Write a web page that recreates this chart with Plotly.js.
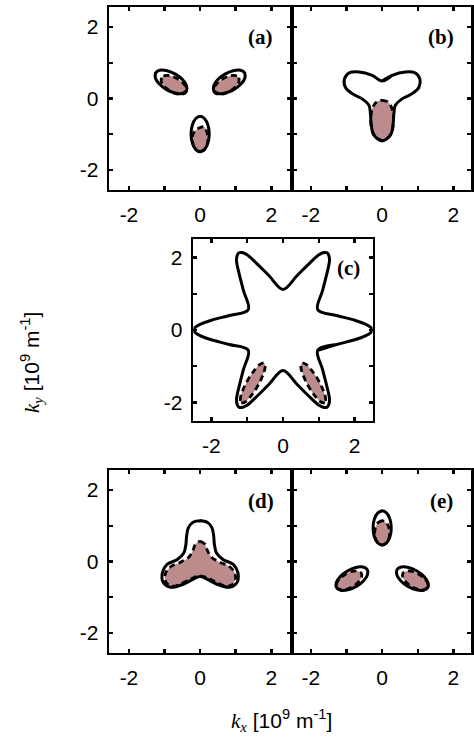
<!DOCTYPE html>
<html><head><meta charset="utf-8">
<script src="https://cdn.plot.ly/plotly-3.0.1.min.js"></script>
<style>html,body{margin:0;padding:0;background:#fff}#chart{width:474px;height:738px}</style>
</head><body><div id="chart"></div>
<script>
// ---------- tick data ----------
const tickVals = [-2, 0, 2];
const tickText = ['-2', '0', '2'];
const minorTickVals = [-2, -1, 0, 1, 2];
const panelLabels = ['(a)', '(b)', '(c)', '(d)', '(e)'];

// ---------- panel (a): three pockets ----------
const aULx = [-1.253,-1.258,-1.145,-0.945,-0.712,-0.508,-0.387,-0.383,-0.496,-0.695,-0.929,-1.133];
const aULy = [0.715,0.574,0.403,0.249,0.153,0.141,0.215,0.357,0.528,0.682,0.778,0.790];
const aURx = [1.253,1.258,1.145,0.945,0.712,0.508,0.387,0.383,0.496,0.695,0.929,1.133];
const aURy = [0.715,0.574,0.403,0.249,0.153,0.141,0.215,0.357,0.528,0.682,0.778,0.790];
const aBx = [0,0.128,0.221,0.255,0.221,0.128,0,-0.128,-0.221,-0.255,-0.221,-0.128];
const aBy = [-1.49,-1.424,-1.243,-0.995,-0.747,-0.566,-0.50,-0.566,-0.747,-0.995,-1.243,-1.424];
// occupied (shaded) parts in (a)
const aULpx = [-1.086,-1.090,-1.0,-0.84,-0.654,-0.49,-0.394,-0.39,-0.48,-0.64,-0.826,-0.99];
const aULpy = [0.58,0.466,0.33,0.207,0.13,0.12,0.18,0.294,0.43,0.553,0.63,0.64];
const aURpx = [1.086,1.090,1.0,0.84,0.654,0.49,0.394,0.39,0.48,0.64,0.826,0.99];
const aURpy = [0.58,0.466,0.33,0.207,0.13,0.12,0.18,0.294,0.43,0.553,0.63,0.64];
const aBpx = [0,0.11,0.19,0.22,0.19,0.12,0.03,-0.12,-0.2,-0.22,-0.19,-0.11];
const aBpy = [-1.49,-1.442,-1.31,-1.13,-0.95,-0.80,-0.80,-0.88,-1.0,-1.13,-1.31,-1.442];

// ---------- panel (b): trefoil ----------
const bSx = [0,0.28,0.65,0.92,1.06,1.03,0.83,0.56,0.37,0.33,0.31,0.24,0,-0.24,-0.31,-0.33,-0.37,-0.56,-0.83,-1.03,-1.06,-0.92,-0.65,-0.28];
const bSy = [0.49,0.65,0.745,0.72,0.54,0.31,0.13,-0.01,-0.19,-0.42,-0.69,-1.01,-1.19,-1.01,-0.69,-0.42,-0.19,-0.01,0.13,0.31,0.54,0.72,0.745,0.65];
const bPx = [0,0.15,0.26,0.31,0.32,0.29,0.2,0,-0.2,-0.29,-0.32,-0.31,-0.26,-0.15];
const bPy = [-0.05,-0.09,-0.24,-0.45,-0.66,-0.87,-1.06,-1.17,-1.06,-0.87,-0.66,-0.45,-0.24,-0.09];

// ---------- panel (c): six-armed star ----------
const cSx = [0.97,1.5,2.0,2.3,2.44,2.5,2.44,2.3,2.0,1.5,
  0.97,1.105,1.234,1.297,1.279,1.23,1.141,1.003,0.766,0.395,
  0,-0.395,-0.766,-1.003,-1.141,-1.23,-1.279,-1.297,-1.234,-1.105,
  -0.97,-1.5,-2.0,-2.3,-2.44,-2.5,-2.44,-2.3,-2.0,-1.5,
  -0.97,-1.105,-1.234,-1.297,-1.279,-1.23,-1.141,-1.003,-0.766,-0.395,
  0,0.395,0.766,1.003,1.141,1.23,1.279,1.297,1.234,1.105];
const cSy = [-0.56,-0.40,-0.27,-0.16,-0.08,0,0.08,0.16,0.27,0.40,
  0.56,1.094,1.597,1.907,2.056,2.13,2.136,2.077,1.867,1.504,
  1.12,1.504,1.867,2.077,2.136,2.13,2.056,1.907,1.597,1.094,
  0.56,0.40,0.27,0.16,0.08,0,-0.08,-0.16,-0.27,-0.40,
  -0.56,-1.094,-1.597,-1.907,-2.056,-2.13,-2.136,-2.077,-1.867,-1.504,
  -1.12,-1.504,-1.867,-2.077,-2.136,-2.13,-2.056,-1.907,-1.597,-1.094];
const cLPx = [-1.165,-1.053,-0.885,-0.706,-0.565,-0.499,-0.525,-0.637,-0.805,-0.984,-1.125,-1.191];
const cLPy = [-2.018,-1.984,-1.81,-1.544,-1.256,-1.024,-0.91,-0.944,-1.118,-1.384,-1.672,-1.904];
const cRPx = [1.165,1.053,0.885,0.706,0.565,0.499,0.525,0.637,0.805,0.984,1.125,1.191];
const cRPy = [-2.018,-1.984,-1.81,-1.544,-1.256,-1.024,-0.91,-0.944,-1.118,-1.384,-1.672,-1.904];

// ---------- panel (d): inverted trefoil ----------
const dSx = [0,0.2,0.33,0.38,0.40,0.46,0.65,0.93,1.06,1.04,0.83,0.46,0.19,0,-0.19,-0.46,-0.83,-1.04,-1.06,-0.93,-0.65,-0.46,-0.40,-0.38,-0.33,-0.2];
const dSy = [1.14,1.1,0.95,0.72,0.48,0.24,0.05,-0.08,-0.31,-0.58,-0.72,-0.63,-0.49,-0.42,-0.49,-0.63,-0.72,-0.58,-0.31,-0.08,0.05,0.24,0.48,0.72,0.95,1.1];
const dPx = [0,0.13,0.2,0.32,0.55,0.82,0.97,0.99,0.9,0.72,0.45,0.2,0,-0.2,-0.45,-0.72,-0.9,-0.99,-0.97,-0.82,-0.55,-0.32,-0.2,-0.13];
const dPy = [0.56,0.49,0.32,0.12,-0.02,-0.14,-0.32,-0.5,-0.65,-0.69,-0.58,-0.46,-0.40,-0.46,-0.58,-0.69,-0.65,-0.5,-0.32,-0.14,-0.02,0.12,0.32,0.49];

// ---------- panel (e): three pockets ----------
const eTx = [0,-0.128,-0.221,-0.255,-0.221,-0.128,0,0.128,0.221,0.255,0.221,0.128];
const eTy = [1.42,1.356,1.18,0.94,0.70,0.524,0.46,0.524,0.70,0.94,1.18,1.356];
const eLLx = [-1.283,-1.163,-0.959,-0.725,-0.526,-0.413,-0.417,-0.538,-0.742,-0.975,-1.175,-1.288];
const eLLy = [-0.73,-0.805,-0.793,-0.697,-0.543,-0.372,-0.23,-0.156,-0.168,-0.264,-0.418,-0.589];
const eLRx = [1.283,1.163,0.959,0.725,0.526,0.413,0.417,0.538,0.742,0.975,1.175,1.288];
const eLRy = [-0.73,-0.805,-0.793,-0.697,-0.543,-0.372,-0.23,-0.156,-0.168,-0.264,-0.418,-0.589];
const eTpx = [0,-0.105,-0.182,-0.21,-0.182,-0.105,0,0.105,0.182,0.21,0.182,0.105];
const eTpy = [1.14,1.094,0.97,0.80,0.63,0.506,0.46,0.506,0.63,0.80,0.97,1.094];
const eLLpx = [-1.276,-1.18,-1.016,-0.83,-0.67,-0.58,-0.584,-0.68,-0.844,-1.03,-1.19,-1.28];
const eLLpy = [-0.73,-0.79,-0.78,-0.703,-0.58,-0.444,-0.33,-0.27,-0.28,-0.357,-0.48,-0.616];
const eLRpx = [1.276,1.18,1.016,0.83,0.67,0.58,0.584,0.68,0.844,1.03,1.19,1.28];
const eLRpy = [-0.73,-0.79,-0.78,-0.703,-0.58,-0.444,-0.33,-0.27,-0.28,-0.357,-0.48,-0.616];

// ---------- drawing helpers ----------
const PINK = '#bc8c8c';
function wrap(a) { return a.concat([a[0], a[1]]); }
function solid(xs, ys, n) {
  return {x: wrap(xs), y: wrap(ys), xaxis: 'x' + n, yaxis: 'y' + n, mode: 'lines',
    line: {color: '#000', width: 3, shape: 'spline', smoothing: 1}, hoverinfo: 'skip', showlegend: false};
}
function shaded(xs, ys, n) {
  return {x: wrap(xs), y: wrap(ys), xaxis: 'x' + n, yaxis: 'y' + n, mode: 'lines', fill: 'toself', fillcolor: PINK,
    line: {color: '#000', width: 2.8, dash: '6px,4px', shape: 'spline', smoothing: 1}, hoverinfo: 'skip', showlegend: false};
}
const traces = [
  shaded(aULpx, aULpy, ''), shaded(aURpx, aURpy, ''), shaded(aBpx, aBpy, ''),
  solid(aULx, aULy, ''), solid(aURx, aURy, ''), solid(aBx, aBy, ''),
  shaded(bPx, bPy, '2'), solid(bSx, bSy, '2'),
  shaded(cLPx, cLPy, '3'), shaded(cRPx, cRPy, '3'), solid(cSx, cSy, '3'),
  shaded(dPx, dPy, '4'), solid(dSx, dSy, '4'),
  shaded(eTpx, eTpy, '5'), shaded(eLLpx, eLLpy, '5'), shaded(eLRpx, eLRpy, '5'),
  solid(eTx, eTy, '5'), solid(eLLx, eLLy, '5'), solid(eLRx, eLRy, '5')
];

const W = 474, H = 738, LW = 2.8;
function px2x(p) { return p / W; }
function py2y(p) { return 1 - p / H; }
function axis(d0, d1, range, anchor, labels) {
  return {domain: [d0, d1], range: range, anchor: anchor, tickmode: 'array', tickvals: tickVals, ticktext: tickText,
    showticklabels: labels, ticks: 'inside', ticklen: 4, tickwidth: 2.5, tickcolor: '#000', ticklabelstandoff: 4,
    minor: {tickmode: 'array', tickvals: minorTickVals, ticks: 'inside', ticklen: 4, tickwidth: 2.5, tickcolor: '#000', showgrid: false},
    showline: true, linewidth: LW, linecolor: '#000', mirror: 'ticks', showgrid: false, zeroline: false,
    tickfont: {family: 'Liberation Sans, Arial, sans-serif', size: 21, color: '#000'}, fixedrange: true};
}
const L = px2x(109.4), ML = px2x(290.9), MR = px2x(293.1), R = px2x(471.2);
const CL = px2x(193.4), CR = px2x(372.6);
const T1 = py2y(7.4), B1 = py2y(189.6), T2 = py2y(239.4), B2 = py2y(420.6), T3 = py2y(470.4), B3 = py2y(652.6);
const rA = [-2.55, 2.55], rB = [-2.5, 2.5];
const layout = {
  width: W, height: H, margin: {l: 0, r: 0, t: 0, b: 0}, paper_bgcolor: '#fff', plot_bgcolor: '#fff', showlegend: false,
  xaxis: axis(L, ML, rA, 'y', true), yaxis: axis(B1, T1, rA, 'x', true),
  xaxis2: axis(MR, R, rB, 'y2', true), yaxis2: axis(B1, T1, rA, 'x2', false),
  xaxis3: axis(CL, CR, rB, 'y3', true), yaxis3: axis(B2, T2, rB, 'x3', true),
  xaxis4: axis(L, ML, rA, 'y4', true), yaxis4: axis(B3, T3, rA, 'x4', true),
  xaxis5: axis(MR, R, rB, 'y5', true), yaxis5: axis(B3, T3, rA, 'x5', false),
  annotations: []
};
const labelPos = [[0.91, 0.835, ''], [0.915, 0.835, '2'], [0.94, 0.842, '3'], [0.92, 0.832, '4'], [0.91, 0.83, '5']];
panelLabels.forEach((t, i) => {
  const p = labelPos[i];
  layout.annotations.push({text: '<b>' + t + '</b>', xref: 'x' + p[2] + ' domain', yref: 'y' + p[2] + ' domain',
    x: p[0], y: p[1], xanchor: 'right', yanchor: 'middle', showarrow: false,
    font: {family: 'Liberation Serif, Times New Roman, serif', size: 21, color: '#000'}});
});
const kFont = '<span style="font-family:Liberation Serif">';
layout.annotations.push({text: '<i>' + kFont + 'k</span></i><sub><i>' + kFont + 'x</span></i></sub> [10<sup>9</sup> m<sup>-1</sup>]',
  xref: 'paper', yref: 'paper', x: px2x(281), y: py2y(720), xanchor: 'center', yanchor: 'middle', showarrow: false,
  font: {family: 'Liberation Sans, Arial, sans-serif', size: 21, color: '#000'}});
layout.annotations.push({text: '<i>' + kFont + 'k</span></i><sub><i>' + kFont + 'y</span></i></sub> [10<sup>9</sup> m<sup>-1</sup>]',
  xref: 'paper', yref: 'paper', x: px2x(31), y: py2y(363), xanchor: 'center', yanchor: 'middle', showarrow: false, textangle: -90,
  font: {family: 'Liberation Sans, Arial, sans-serif', size: 21, color: '#000'}});
Plotly.newPlot('chart', traces, layout, {staticPlot: true, displayModeBar: false});
</script></body></html>
